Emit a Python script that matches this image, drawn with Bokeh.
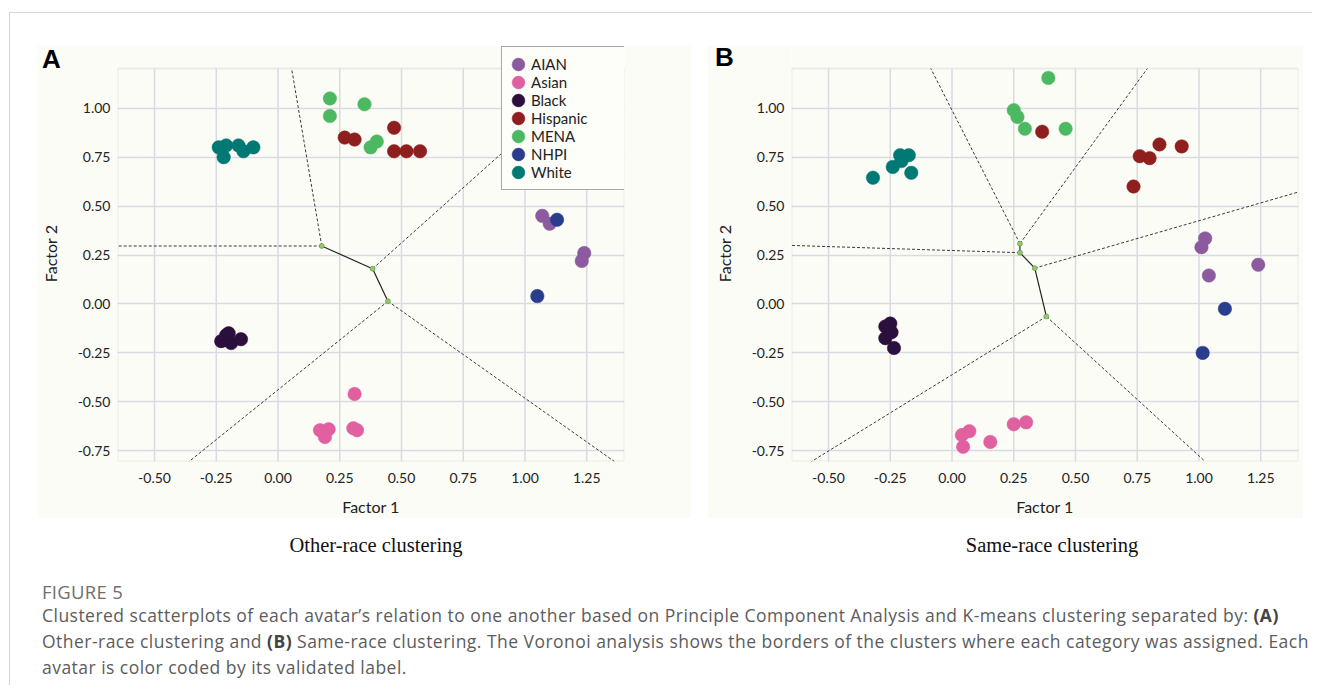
from bokeh.plotting import figure
from bokeh.models import (Range1d, FixedTicker, Legend, LegendItem, Div, Spacer,
                          BoxAnnotation)
from bokeh.layouts import column, row
from bokeh.embed import file_html
from bokeh.resources import INLINE

# ---------------- data ----------------
groups = ["AIAN", "Asian", "Black", "Hispanic", "MENA", "NHPI", "White"]
group_colors = ["#8b5a9f", "#e060a0", "#2b0f3d", "#8f1f1f", "#4db862", "#2a3d8c", "#007873"]

# Panel A: other-race clustering
other_group = (["AIAN"] * 4 + ["Asian"] * 6 + ["Black"] * 5 + ["Hispanic"] * 6
               + ["MENA"] * 5 + ["NHPI"] * 2 + ["White"] * 6)
other_x = [1.07, 1.10, 1.24, 1.23,
           0.31, 0.17, 0.205, 0.19, 0.305, 0.32,
           -0.23, -0.21, -0.19, -0.20, -0.15,
           0.27, 0.31, 0.47, 0.47, 0.52, 0.575,
           0.21, 0.21, 0.35, 0.375, 0.40,
           1.13, 1.05,
           -0.24, -0.21, -0.16, -0.14, -0.10, -0.22]
other_y = [0.45, 0.41, 0.26, 0.22,
           -0.46, -0.645, -0.64, -0.68, -0.635, -0.645,
           -0.19, -0.16, -0.20, -0.15, -0.18,
           0.85, 0.84, 0.90, 0.78, 0.78, 0.78,
           1.05, 0.96, 1.02, 0.80, 0.83,
           0.43, 0.04,
           0.80, 0.81, 0.81, 0.78, 0.80, 0.75]

# Panel B: same-race clustering
same_group = other_group
same_x = [1.025, 1.01, 1.04, 1.24,
          0.04, 0.07, 0.045, 0.155, 0.25, 0.30,
          -0.27, -0.25, -0.245, -0.27, -0.235,
          0.365, 0.76, 0.80, 0.84, 0.93, 0.735,
          0.39, 0.25, 0.265, 0.295, 0.46,
          1.105, 1.015,
          -0.32, -0.24, -0.21, -0.175, -0.165, -0.205]
same_y = [0.335, 0.29, 0.145, 0.20,
          -0.67, -0.65, -0.73, -0.705, -0.615, -0.605,
          -0.115, -0.10, -0.145, -0.175, -0.225,
          0.88, 0.755, 0.745, 0.815, 0.805, 0.60,
          1.155, 0.99, 0.955, 0.895, 0.895,
          -0.025, -0.25,
          0.645, 0.70, 0.76, 0.76, 0.67, 0.73]

# Voronoi borders, panel A
other_vx = [0.177, 0.383, 0.445]
other_vy = [0.296, 0.180, 0.014]
other_inner_from = [0, 1]
other_inner_to = [1, 2]
other_ray_from = [0, 0, 1, 2, 2]
other_ray_end_x = [-0.65, 0.055, 1.29, -0.36, 1.362]
other_ray_end_y = [0.296, 1.203, 1.203, -0.805, -0.805]

# Voronoi borders, panel B
same_vx = [0.275, 0.275, 0.335, 0.382]
same_vy = [0.308, 0.262, 0.183, -0.064]
same_inner_from = [0, 1, 2]
same_inner_to = [1, 2, 3]
same_ray_from = [0, 0, 1, 2, 3, 3]
same_ray_end_x = [-0.086, 0.791, -0.65, 1.403, -0.569, 1.025]
same_ray_end_y = [1.203, 1.203, 0.299, 0.572, -0.805, -0.805]

x_ticks = [-0.5, -0.25, 0.0, 0.25, 0.5, 0.75, 1.0, 1.25]
x_tick_labels = ["-0.50", "-0.25", "0.00", "0.25", "0.50", "0.75", "1.00", "1.25"]
y_ticks = [-0.75, -0.5, -0.25, 0.0, 0.25, 0.5, 0.75, 1.0]
y_tick_labels = ["-0.75", "-0.50", "-0.25", "0.00", "0.25", "0.50", "0.75", "1.00"]

# plotted box and the strip above it (which holds the overhanging legend)
X_MIN, X_MAX = -0.65, 1.403
Y_MIN, Y_MAX = -0.805, 1.203
Y_VIEW_TOP = 1.3205

panel_letters = ["A", "B"]
subtitles = ["Other-race clustering", "Same-race clustering"]
x_title = "Factor 1"
y_title = "Factor 2"

BG = "#fcfcf7"
TICK_FONT = "Lato"
GRID = "#d9dae2"


def make_panel(xs, ys, gs, vx, vy, inner_from, inner_to, ray_from, rex, rey,
               left, right, with_legend):
    p = figure(frame_width=507, frame_height=416,
               x_range=Range1d(X_MIN, X_MAX), y_range=Range1d(Y_MIN, Y_VIEW_TOP),
               output_backend="svg", toolbar_location=None,
               min_border_left=left, min_border_right=right,
               min_border_top=0, min_border_bottom=55,
               background_fill_color=BG, border_fill_color=BG,
               outline_line_color=None)
    for ax in (p.xaxis[0], p.yaxis[0]):
        ax.axis_line_color = None
        ax.major_tick_line_color = None
        ax.minor_tick_line_color = None
        ax.major_tick_out = 0
        ax.major_tick_in = 0
        ax.major_label_text_font = TICK_FONT
        ax.major_label_text_font_size = "14px"
        ax.major_label_text_color = "#222222"
        ax.axis_label_text_font = TICK_FONT
        ax.axis_label_text_font_size = "16px"
        ax.axis_label_text_font_style = "normal"
        ax.axis_label_text_color = "#222222"
    p.xaxis.ticker = FixedTicker(ticks=x_ticks)
    p.yaxis.ticker = FixedTicker(ticks=y_ticks)
    p.xaxis.major_label_overrides = dict(zip(x_ticks, x_tick_labels))
    p.yaxis.major_label_overrides = dict(zip(y_ticks, y_tick_labels))
    p.xaxis.axis_label = x_title
    p.yaxis.axis_label = y_title
    p.xaxis.major_label_standoff = 11
    p.xaxis.axis_label_standoff = 11
    p.yaxis.major_label_standoff = 7
    p.yaxis.axis_label_standoff = 15
    p.xgrid.visible = False
    p.ygrid.grid_line_color = GRID
    p.ygrid.grid_line_width = 1.5

    # vertical grid lines, limited to the plotted box
    p.segment(x0=x_ticks, x1=x_ticks, y0=[Y_MIN] * len(x_ticks),
              y1=[Y_MAX] * len(x_ticks), line_color=GRID, line_width=1.5)
    # frame of the plotted box
    p.add_layout(BoxAnnotation(left=X_MIN, right=X_MAX, bottom=Y_MIN, top=Y_MAX,
                               fill_alpha=0, line_color="#c4c4c8",
                               line_width=2, level="underlay"))

    # Voronoi borders
    p.segment(x0=[vx[i] for i in ray_from], y0=[vy[i] for i in ray_from],
              x1=rex, y1=rey, line_color="#3a3a3a", line_width=1,
              line_dash="3 2")
    p.segment(x0=[vx[i] for i in inner_from], y0=[vy[i] for i in inner_from],
              x1=[vx[i] for i in inner_to], y1=[vy[i] for i in inner_to],
              line_color="#222222", line_width=1.2)
    p.scatter(vx, vy, size=5, fill_color="#8fcb6e", line_color="#5d8f48",
              line_width=0.6)

    items = []
    for g, c in zip(groups, group_colors):
        gx = [x for x, gg in zip(xs, gs) if gg == g]
        gy = [y for y, gg in zip(ys, gs) if gg == g]
        r = p.ellipse(gx, gy, width=13.5, height=13.5, width_units="screen",
                      height_units="screen", fill_color=c, line_color=c,
                      line_width=0.5)
        items.append(LegendItem(label=g, renderers=[r]))

    if with_legend:
        leg = Legend(items=items, location=(384, 271), padding=8, spacing=0,
                     glyph_width=16, glyph_height=16, label_height=17,
                     label_standoff=5, label_width=87,
                     label_text_font=TICK_FONT,
                     label_text_font_size="15px", label_text_color="#222222",
                     border_line_color="#555555", border_line_width=1,
                     background_fill_color="#fdfdf9", background_fill_alpha=1,
                     margin=0)
        p.add_layout(leg)
    return p


pA = make_panel(other_x, other_y, other_group, other_vx, other_vy,
                other_inner_from, other_inner_to, other_ray_from,
                other_ray_end_x, other_ray_end_y, 80, 67, True)
pB = make_panel(same_x, same_y, same_group, same_vx, same_vy,
                same_inner_from, same_inner_to, same_ray_from,
                same_ray_end_x, same_ray_end_y, 84, 5, False)

letter_style = ("position:absolute;font-family:'Liberation Sans',Arial,sans-serif;"
                "font-weight:bold;font-size:26px;line-height:26px;color:#000;")
letters = Div(
    text=('<div style="position:relative;width:1293px;height:32px;">'
          f'<span style="{letter_style}left:32px;top:33px;">{panel_letters[0]}</span>'
          f'<span style="{letter_style}left:705px;top:31px;">{panel_letters[1]}</span>'
          '</div>'),
    width=1293, height=32, margin=0,
    styles={"overflow": "visible", "z-index": "10"})

sub_style = ("font-family:'Liberation Serif',serif;font-size:20.5px;color:#111;"
             "text-align:center;line-height:54px;white-space:nowrap;")
subA = Div(text=f'<div style="{sub_style}width:732px">{subtitles[0]}</div>',
           width=732, height=46, margin=0)
subB = Div(text=f'<div style="{sub_style}width:420px">{subtitles[1]}</div>',
           width=420, height=46, margin=0)

caption_html = (
    '<div style="font-family:\'Open Sans\',sans-serif;padding-top:18px;padding-left:32px;white-space:nowrap;">'
    '<div style="font-size:18.5px;line-height:20px;color:#6e6e6e;letter-spacing:0.3px;">FIGURE 5</div>'
    '<div style="font-size:17.5px;line-height:26px;color:#5c5c5c;letter-spacing:0.47px;">'
    'Clustered scatterplots of each avatar’s relation to one another based on Principle Component '
    'Analysis and K-means clustering separated by: <b style="color:#444">(A)</b><br>'
    'Other-race clustering and <b style="color:#444">(B)</b> Same-race clustering. The Voronoi analysis '
    'shows the borders of the clusters where each category was assigned. Each<br>'
    'avatar is color coded by its validated label.</div></div>'
)
caption = Div(text=caption_html, width=1293, height=120, margin=0)

panels = row(Spacer(width=27, height=471), pA, Spacer(width=16, height=471), pB)
subs = row(subA, Spacer(width=100, height=46), subB)
content = column(letters, panels, subs, caption)

top_line = Div(text="", width=1303, height=1, margin=0,
               styles={"background-color": "#d6d6d6"})
left_line = Div(text="", width=1, height=672, margin=0,
                styles={"background-color": "#d6d6d6"})

layout = column(
    Spacer(width=1312, height=12),
    row(Spacer(width=9, height=1), top_line),
    row(Spacer(width=9, height=672), left_line, content),
)

open("out.html", "w").write(file_html(layout, INLINE))
